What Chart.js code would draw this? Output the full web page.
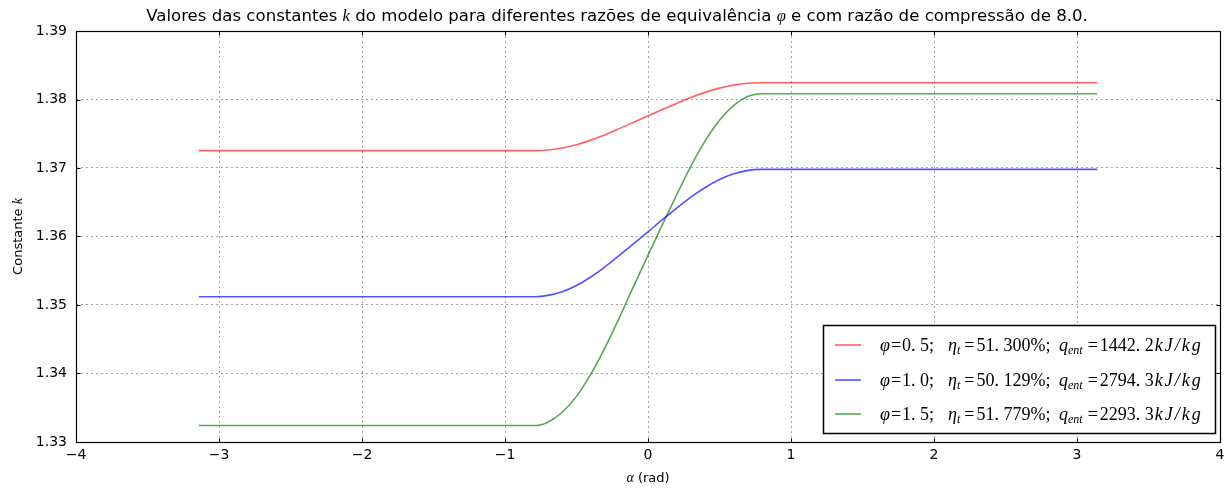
<!DOCTYPE html>
<html>
<head>
<meta charset="utf-8">
<script src="https://cdn.jsdelivr.net/npm/chart.js@4/dist/chart.umd.min.js"></script>
<style>
  html, body { margin: 0; padding: 0; background: #fff; }
  #wrap { width: 1232px; height: 488px; position: relative; }
</style>
</head>
<body>
<div id="wrap"><canvas id="c" width="1232" height="488"></canvas></div>
<script>
// Crank angle (rad) samples; combustion occurs between -pi/4 and +pi/4
const alpha = [-3.1416, -0.7854, -0.7, -0.6, -0.5, -0.4, -0.3, -0.2, -0.1, 0.0,
               0.1, 0.2, 0.3, 0.4, 0.5, 0.6, 0.7, 0.7854, 3.1416];

// Constant k for each equivalence ratio
const kPhi05 = [1.37253, 1.37253, 1.37263, 1.37293, 1.37340, 1.37407, 1.37486, 1.37575, 1.37667, 1.37760,
                1.37853, 1.37942, 1.38029, 1.38104, 1.38166, 1.38210, 1.38237, 1.38245, 1.38245];
const kPhi10 = [1.35121, 1.35121, 1.35140, 1.35195, 1.35285, 1.35409, 1.35558, 1.35725, 1.35895, 1.36068,
                1.36246, 1.36413, 1.36575, 1.36716, 1.36831, 1.36915, 1.36965, 1.36980, 1.36980];
const kPhi15 = [1.33240, 1.33240, 1.33288, 1.33434, 1.33666, 1.33991, 1.34379, 1.34815, 1.35275, 1.35725,
                1.36171, 1.36607, 1.37029, 1.37397, 1.37697, 1.37915, 1.38046, 1.38085, 1.38085];

const xTicks = [-4, -3, -2, -1, 0, 1, 2, 3, 4];
const yTicks = [1.33, 1.34, 1.35, 1.36, 1.37, 1.38, 1.39];

const lineColors = ['rgba(255,0,0,0.62)', 'rgba(0,0,255,0.68)', 'rgba(0,128,0,0.68)'];

// Legend entries: phi, eta_t and q_ent
const phiLabels = ['0. 5', '1. 0', '1. 5'];
const etaLabels = ['51. 300%', '50. 129%', '51. 779%'];
const qLabels = ['1442. 2', '2794. 3', '2293. 3'];

const SANS = '"DejaVu Sans", sans-serif';
const SERIF = '"Liberation Serif", "DejaVu Serif", serif';

function toPoints(ys) { return alpha.map((a, i) => ({ x: a, y: ys[i] })); }

// Draws a run of text segments with individual fonts, letter spacing and vertical offsets
function drawRich(ctx, segs, x, y, align) {
  let total = 0;
  segs.forEach(s => {
    ctx.font = s.font;
    ctx.letterSpacing = (s.ls || 0) + 'px';
    s.w = ctx.measureText(s.text).width + (s.gap || 0);
    total += s.w;
  });
  let cx = align === 'center' ? x - total / 2 : (align === 'right' ? x - total : x);
  ctx.textBaseline = 'alphabetic';
  ctx.textAlign = 'left';
  segs.forEach(s => {
    ctx.font = s.font;
    ctx.letterSpacing = (s.ls || 0) + 'px';
    ctx.fillStyle = s.color || '#000';
    ctx.fillText(s.text, cx, y + (s.dy || 0));
    cx += s.w;
  });
  ctx.letterSpacing = '0px';
  return total;
}

const decorations = {
  id: 'decorations',
  afterDraw(chart) {
    const ctx = chart.ctx;
    const ca = chart.chartArea;
    const xs = chart.scales.x, ys = chart.scales.y;
    ctx.save();

    // frame, on the same pixel rows/columns as the outermost grid lines
    const l = Math.round(xs.getPixelForValue(xTicks[0])) + 0.5;
    const r = Math.round(xs.getPixelForValue(xTicks[xTicks.length - 1])) + 0.5;
    const t = Math.round(ys.getPixelForValue(yTicks[yTicks.length - 1])) + 0.5;
    const b = Math.round(ys.getPixelForValue(yTicks[0])) + 0.5;
    ctx.strokeStyle = '#000';
    ctx.lineWidth = 1.2;
    ctx.setLineDash([]);
    ctx.strokeRect(l, t, r - l, b - t);

    // inward tick marks on all four sides
    ctx.lineWidth = 1;
    ctx.beginPath();
    xTicks.forEach(v => {
      const px = Math.round(xs.getPixelForValue(v)) + 0.5;
      ctx.moveTo(px, b); ctx.lineTo(px, b - 4);
      ctx.moveTo(px, t); ctx.lineTo(px, t + 4);
    });
    yTicks.forEach(v => {
      const py = Math.round(ys.getPixelForValue(v)) + 0.5;
      ctx.moveTo(l, py); ctx.lineTo(l + 4, py);
      ctx.moveTo(r, py); ctx.lineTo(r - 4, py);
    });
    ctx.stroke();

    // title
    const tf = '16.6px ' + SANS;
    const tm = 'italic 16.6px ' + SERIF;
    drawRich(ctx, [
      { text: 'Valores das constantes ', font: tf },
      { text: 'k', font: tm },
      { text: ' do modelo para diferentes razões de equivalência ', font: tf },
      { text: 'φ', font: tm },
      { text: ' e com razão de compressão de 8.0.', font: tf }
    ], 617, 21, 'center');

    // axis titles
    drawRich(ctx, [
      { text: 'α', font: 'italic 14px ' + SERIF },
      { text: ' (rad)', font: '13px ' + SANS }
    ], (ca.left + ca.right) / 2, 482, 'center');
    ctx.save();
    ctx.translate(22, (ca.top + ca.bottom) / 2);
    ctx.rotate(-Math.PI / 2);
    drawRich(ctx, [
      { text: 'Constante ', font: '13px ' + SANS },
      { text: 'k', font: 'italic 14px ' + SERIF }
    ], 0, 0, 'center');
    ctx.restore();

    // legend box
    const bx = 823.5, by = 325.5, bw = 392, bh = 108;
    ctx.fillStyle = '#fff';
    ctx.fillRect(bx, by, bw, bh);
    ctx.strokeStyle = '#000';
    ctx.lineWidth = 1.5;
    ctx.strokeRect(bx, by, bw, bh);
    const rowY = [345, 380, 414];
    const groupX = [880, 948, 1059];
    const mf = 'italic 18px ' + SERIF, rf = '18px ' + SERIF, sf = 'italic 12px ' + SERIF;
    for (let i = 0; i < 3; i++) {
      ctx.strokeStyle = lineColors[i];
      ctx.lineWidth = 1.6;
      ctx.beginPath();
      ctx.moveTo(835, rowY[i]); ctx.lineTo(861, rowY[i]);
      ctx.stroke();
      const base = rowY[i] + 6;
      drawRich(ctx, [
        { text: 'φ', font: mf, gap: 1 },
        { text: '=', font: rf, gap: 1 },
        { text: phiLabels[i] + ';', font: rf }
      ], groupX[0], base, 'left');
      drawRich(ctx, [
        { text: 'η', font: mf },
        { text: 't', font: sf, dy: 3, gap: 4 },
        { text: '=', font: rf, gap: 2 },
        { text: etaLabels[i] + ';', font: rf }
      ], groupX[1], base, 'left');
      drawRich(ctx, [
        { text: 'q', font: mf },
        { text: 'ent', font: sf, dy: 3, gap: 5 },
        { text: '=', font: rf, gap: 2 },
        { text: qLabels[i], font: rf, gap: 1 },
        { text: 'kJ/kg', font: mf, ls: 2 }
      ], groupX[2], base, 'left');
    }
    ctx.restore();
  }
};

const gridStyle = { color: 'rgba(0,0,0,0.36)', lineWidth: 1, drawTicks: false };
const dotted = { display: false, dash: [2, 3] };

new Chart(document.getElementById('c'), {
  type: 'line',
  data: {
    datasets: [kPhi05, kPhi10, kPhi15].map((ys, i) => ({
      label: 'φ = ' + phiLabels[i],
      data: toPoints(ys),
      borderColor: lineColors[i],
      borderWidth: 1.6,
      pointRadius: 0,
      fill: false,
      cubicInterpolationMode: 'monotone'
    }))
  },
  options: {
    responsive: false,
    animation: false,
    layout: { padding: { left: 0, right: 12, top: 31, bottom: 0 } },
    plugins: { legend: { display: false }, tooltip: { enabled: false }, title: { display: false } },
    scales: {
      x: {
        type: 'linear', min: -4, max: 4,
        afterBuildTicks: s => { s.ticks = xTicks.map(v => ({ value: v })); },
        afterFit: s => { s.height = 46; },
        border: dotted,
        grid: gridStyle,
        ticks: {
          padding: 5, color: '#000', font: { family: SANS, size: 14 },
          callback: v => (v < 0 ? '−' + Math.abs(v) : String(v))
        }
      },
      y: {
        type: 'linear', min: 1.33, max: 1.39,
        afterBuildTicks: s => { s.ticks = yTicks.map(v => ({ value: v })); },
        afterFit: s => { s.width = 76; },
        border: dotted,
        grid: gridStyle,
        ticks: {
          padding: 9, color: '#000', font: { family: SANS, size: 14 },
          callback: v => v.toFixed(2)
        }
      }
    }
  },
  plugins: [decorations]
});
</script>
</body>
</html>
